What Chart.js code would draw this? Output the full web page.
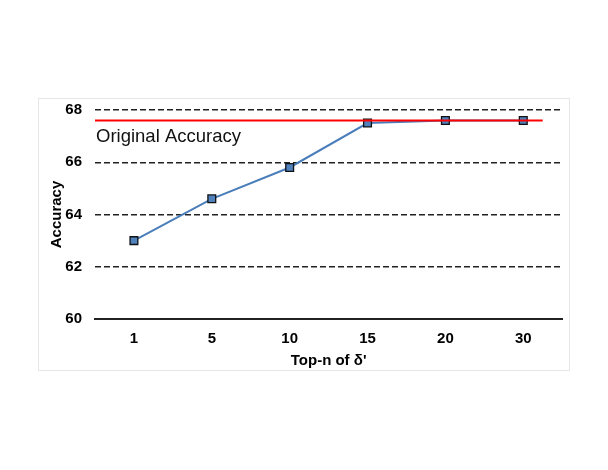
<!DOCTYPE html>
<html>
<head>
<meta charset="utf-8">
<script src="https://cdn.jsdelivr.net/npm/chart.js@4"></script>
<style>
  body { margin: 0; background: #fff; }
  #box {
    position: absolute; left: 38px; top: 98px;
    width: 530px; height: 271px;
    border: 1px solid #e6e6e6;
  }
</style>
</head>
<body>
<div id="box"><canvas id="chart"></canvas></div>
<script>
// values
const categories = ["1", "5", "10", "15", "20", "30"];
const accuracy = [63.0, 64.6, 65.8, 67.5, 67.6, 67.6];
const originalAccuracy = 67.6;
const originalSpan = [-0.5, 5.25]; // in category index units
const yTicks = [60, 62, 64, 66, 68];

const FONT = "'Liberation Sans', Arial, sans-serif";

// label over the red reference line
const refLabel = {
  id: "refLabel",
  afterDatasetsDraw(chart) {
    const { ctx, chartArea, scales } = chart;
    const y = scales.y.getPixelForValue(originalAccuracy);
    ctx.save();
    ctx.font = "18.5px " + FONT;
    ctx.fillStyle = "#111";
    ctx.textBaseline = "middle";
    ctx.fillText("Original Accuracy", chartArea.left + 1, y + 16);
    ctx.restore();
  }
};

document.addEventListener("DOMContentLoaded", () => {
  const ctx = document.getElementById("chart").getContext("2d");

  new Chart(ctx, {
    type: "line",
    data: {
      labels: categories,
      datasets: [
        {
          label: "Accuracy",
          data: accuracy,
          borderColor: "#4a7ebb",
          borderWidth: 2,
          pointStyle: "rect",
          pointRadius: 5.5,
          pointBackgroundColor: "#4f81bd",
          pointBorderColor: "#111",
          pointBorderWidth: 1.3,
          tension: 0,
          order: 1
        },
        {
          label: "Original Accuracy",
          data: originalSpan.map(x => ({ x: x, y: originalAccuracy })),
          xAxisID: "xr",
          borderColor: "#ff0000",
          borderWidth: 2,
          pointRadius: 0,
          order: 0
        }
      ]
    },
    options: {
      responsive: true,
      maintainAspectRatio: false,
      animation: false,
      layout: { padding: { top: 11, right: 5, left: 0, bottom: 0 } },
      plugins: {
        legend: { display: false },
        tooltip: { enabled: false }
      },
      scales: {
        x: {
          type: "category",
          offset: true,
          grid: { display: false, drawTicks: false },
          border: { display: true, color: "#222", width: 2 },
          ticks: {
            color: "#000",
            padding: 11,
            font: { family: FONT, size: 15, weight: "bold" }
          },
          title: {
            display: true,
            text: "Top-n of δ'",
            color: "#000",
            padding: { top: 0, bottom: 0 },
            font: { family: FONT, size: 15, weight: "bold" }
          },
          afterFit(scale) { scale.height = 51; }
        },
        xr: {
          type: "linear",
          display: false,
          min: -0.5,
          max: categories.length - 0.5
        },
        y: {
          min: 60,
          max: 68,
          afterBuildTicks(scale) {
            scale.ticks = yTicks.map(v => ({ value: v }));
          },
          grid: {
            drawTicks: false,
            color: c => (c.tick.value === 60 ? "rgba(0,0,0,0)" : "#222"),
            lineWidth: 1.4
          },
          border: { display: false, dash: [6, 3] },
          ticks: {
            color: "#000",
            padding: 13,
            font: { family: FONT, size: 15, weight: "bold" }
          },
          title: {
            display: true,
            text: "Accuracy",
            color: "#000",
            padding: { top: 9, bottom: 0 },
            font: { family: FONT, size: 15, weight: "bold" }
          },
          afterFit(scale) {
            scale.width = 56;
            scale.paddingTop = 0;
            scale.paddingBottom = 0;
          }
        }
      }
    },
    plugins: [refLabel]
  });
});
</script>
</body>
</html>
